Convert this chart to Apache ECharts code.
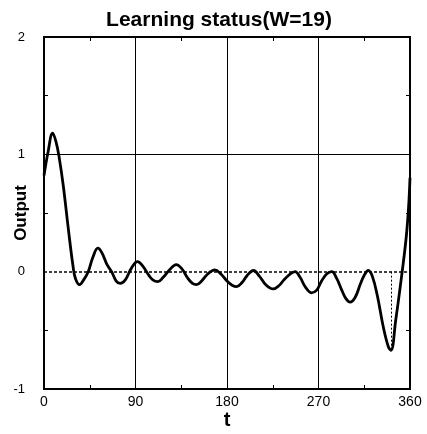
<!DOCTYPE html>
<html>
<head>
<meta charset="utf-8">
<script src="https://cdn.jsdelivr.net/npm/echarts@6/dist/echarts.min.js"></script>
<style>html,body{margin:0;padding:0;background:#fff}#c{width:427px;height:434px}</style>
</head>
<body>
<div id="c"></div>
<script>
var titleText = "Learning status(W=19)";
var xName = "t";
var yName = "Output";
var xTicks = [0, 90, 180, 270, 360];
var yTicks = [-1, 0, 1, 2];
var tValues = [0,4,8.5,12,15,19,24,28.5,31,35,39,43.5,48,53,57,62,66.5,71,75,80,86,92,97,103,107,112,117,124,130,136,141,146,150,155,161,168,174,180,185,189.5,195,200,206,212,218,225.5,231,236,242,247,252,257,263,268,273,278,283,288,293,297,301,306,311,315,319,323,328,333.7,338.7,341.3,346,350,356,358.6,360];
var outValues = [0.82,1.02,1.18,1.1,0.97,0.73,0.36,0.05,-0.06,-0.11,-0.07,0.0,0.12,0.2,0.16,0.06,0.0,-0.08,-0.1,-0.07,0.03,0.086,0.05,-0.03,-0.07,-0.085,-0.05,0.02,0.06,0.02,-0.05,-0.1,-0.11,-0.08,-0.02,0.015,-0.02,-0.08,-0.115,-0.127,-0.09,-0.03,0.01,-0.04,-0.11,-0.147,-0.12,-0.07,-0.02,0.0,-0.05,-0.13,-0.18,-0.16,-0.08,-0.02,0.0,-0.06,-0.16,-0.23,-0.26,-0.22,-0.11,-0.03,0.01,-0.04,-0.21,-0.47,-0.64,-0.67,-0.41,-0.155,0.27,0.55,0.8];
var solidRefY = [1];
var dashedRefY = [0];

var pts = tValues.map(function(t, i){ return [t, outValues[i]]; });
var minIdx = 0;
outValues.forEach(function(v, i){ if (v < outValues[minIdx]) minIdx = i; });

var font = "'Liberation Sans', Arial, Helvetica, sans-serif";
var chart = echarts.init(document.getElementById('c'), null, {renderer: 'canvas'});
var axisLbl = {color: '#000', fontSize: 14, fontFamily: font};
var minor = {show: true, splitNumber: 2, length: 4, lineStyle: {color: '#000', width: 1}};
var noTick = {show: false, inside: true};
chart.setOption({
  animation: false,
  backgroundColor: '#fff',
  title: {
    text: titleText, left: 214, top: 5, textAlign: 'center',
    textStyle: {fontSize: 21, fontWeight: 'bold', color: '#000', fontFamily: font}
  },
  grid: {left: 44, right: 17, top: 37, bottom: 45, containLabel: false, outerBoundsMode: 'none',
    show: true, borderColor: '#000', borderWidth: 2, backgroundColor: 'transparent'},
  xAxis: [{
    type: 'value', min: xTicks[0], max: xTicks[xTicks.length-1], interval: 90,
    name: xName, nameLocation: 'middle', nameGap: 21, nameMoveOverlap: false,
    nameTextStyle: {fontSize: 20, fontWeight: 'bold', color: '#000', fontFamily: font},
    axisLine: {show: false, onZero: false},
    axisTick: noTick,
    minorTick: minor,
    axisLabel: Object.assign({margin: 6}, axisLbl),
    splitLine: {show: true, lineStyle: {color: '#000', width: 1}}
  }, {
    type: 'value', position: 'top', min: xTicks[0], max: xTicks[xTicks.length-1], interval: 90,
    axisLine: {show: false, onZero: false}, axisLabel: {show: false}, splitLine: {show: false},
    axisTick: noTick,
    minorTick: minor
  }],
  yAxis: [{
    type: 'value', min: yTicks[0], max: yTicks[yTicks.length-1], interval: 1,
    name: yName, nameLocation: 'middle', nameGap: 14, nameRotate: 90, nameMoveOverlap: false,
    nameTextStyle: {fontSize: 17, fontWeight: 'bold', color: '#000', fontFamily: font},
    axisLine: {show: false, onZero: false},
    axisTick: noTick,
    minorTick: minor,
    axisLabel: Object.assign({margin: 19, align: 'right'}, axisLbl, {fontSize: 13}),
    splitLine: {show: false}
  }, {
    type: 'value', position: 'right', min: yTicks[0], max: yTicks[yTicks.length-1], interval: 1,
    axisLine: {show: false, onZero: false}, axisLabel: {show: false}, splitLine: {show: false},
    axisTick: noTick,
    minorTick: minor
  }],
  series: [{
    type: 'line', data: pts, smooth: 0.4, symbol: 'none',
    lineStyle: {color: '#000', width: 2.8},
    z: 5,
    markLine: {
      silent: true, symbol: 'none', label: {show: false},
      data: solidRefY.map(function(v){ return {yAxis: v, lineStyle: {color: '#000', width: 1.2, type: 'solid'}}; })
        .concat(dashedRefY.map(function(v){ return {yAxis: v, lineStyle: {color: '#000', width: 1.5, type: [3, 2]}}; }))
        .concat([[{coord: [tValues[minIdx], dashedRefY[0]], lineStyle: {color: '#000', width: 1, type: [2, 2]}}, {coord: [tValues[minIdx], outValues[minIdx]]}]])
    }
  }]
});
</script>
</body>
</html>
